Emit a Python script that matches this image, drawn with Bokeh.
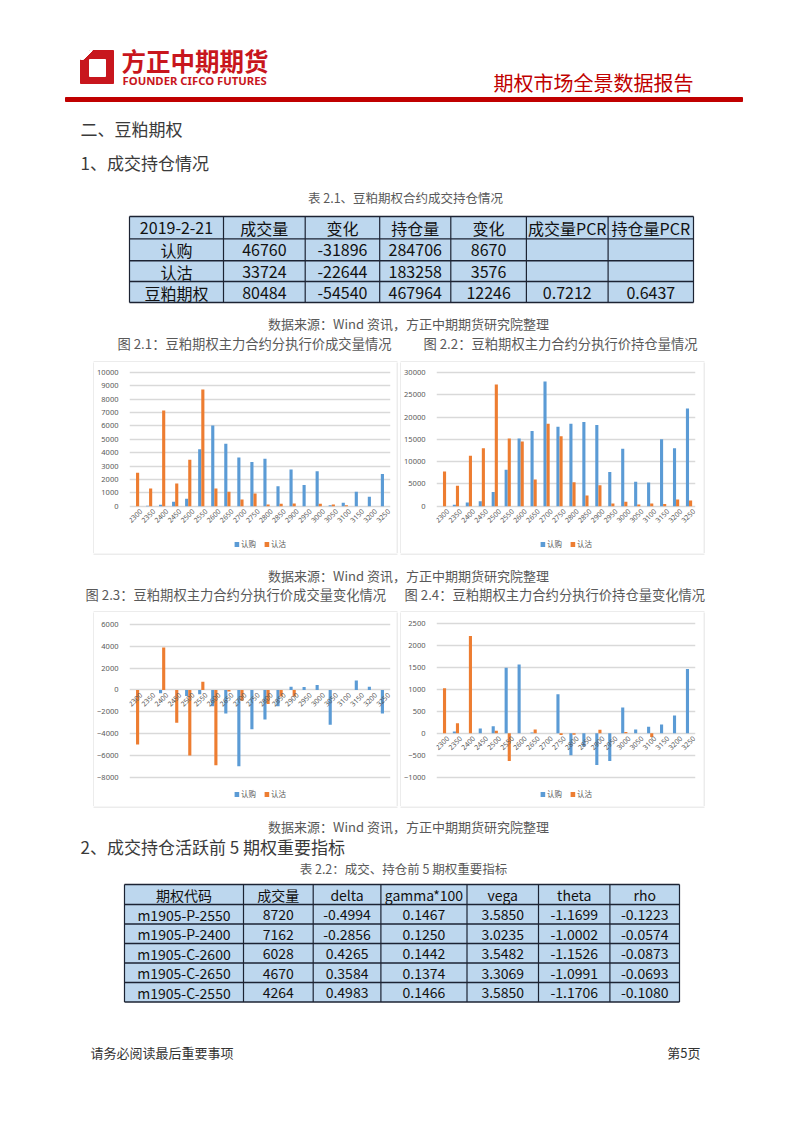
from math import pi
from bokeh.plotting import figure
from bokeh.layouts import column, row
from bokeh.models import (Range1d, FactorRange, ColumnDataSource, Legend, LegendItem,
                          FixedTicker)
from bokeh.transform import dodge
from bokeh.core.properties import value
from bokeh.embed import file_html
from bokeh.resources import INLINE

# ---------------- data ----------------
strikes = ["2300", "2350", "2400", "2450", "2500", "2550", "2600", "2650", "2700", "2750",
           "2800", "2850", "2900", "2950", "3000", "3050", "3100", "3150", "3200", "3250"]

# Fig 2.1 volume by strike
call_vol = [0, 30, 100, 330, 560, 4264, 6028, 4670, 3650, 3300,
            3550, 1500, 2750, 1580, 2620, 80, 250, 1080, 700, 2400]
put_vol = [2500, 1330, 7162, 1700, 3480, 8720, 1320, 1080, 500, 950,
           120, 180, 200, 0, 180, 120, 80, 0, 0, 0]

# Fig 2.2 open interest by strike
call_oi = [0, 350, 850, 1100, 3200, 8200, 15200, 16900, 28000, 17800,
           18500, 18900, 18200, 7700, 12900, 5500, 5300, 15000, 13000, 21900]
put_oi = [7800, 4600, 11300, 13000, 27300, 15200, 14500, 6000, 18500, 15700,
          5400, 2400, 4700, 600, 1000, 400, 600, 500, 1500, 1300]

# Fig 2.3 volume change by strike
call_vol_chg = [0, 0, -300, 0, -550, -400, -1500, -2150, -7000, -3600,
                -2700, -1500, 300, 280, 450, -3200, 0, 870, 300, -2150]
put_vol_chg = [-5000, 0, 3900, -3000, -6000, 750, -6900, -150, -1000, 0,
               -1300, -600, -600, 0, 0, 0, 0, 0, 0, 0]

# Fig 2.4 open interest change by strike
call_oi_chg = [0, 40, 0, 110, 160, 1500, 1570, 20, 0, 890,
               -500, -300, -720, -630, 590, 90, 150, 200, 410, 1470]
put_oi_chg = [1030, 230, 2220, 0, 60, -630, 0, 90, 0, -40,
              -30, 0, 80, 0, 30, 0, -80, 0, 0, 0]

ticks_vol = [0, 1000, 2000, 3000, 4000, 5000, 6000, 7000, 8000, 9000, 10000]
ticks_oi = [0, 5000, 10000, 15000, 20000, 25000, 30000]
ticks_vol_chg = [-8000, -6000, -4000, -2000, 0, 2000, 4000, 6000]
ticks_oi_chg = [-1000, -500, 0, 500, 1000, 1500, 2000, 2500]

series_names = ["认购", "认沽"]

# Table 2.1
t1_header = ["2019-2-21", "成交量", "变化", "持仓量", "变化", "成交量PCR", "持仓量PCR"]
t1_names = ["认购", "认沽", "豆粕期权"]
t1_volume = ["46760", "33724", "80484"]
t1_vol_chg = ["-31896", "-22644", "-54540"]
t1_oi = ["284706", "183258", "467964"]
t1_oi_chg = ["8670", "3576", "12246"]
t1_vol_pcr = ["", "", "0.7212"]
t1_oi_pcr = ["", "", "0.6437"]

# Table 2.2
t2_header = ["期权代码", "成交量", "delta", "gamma*100", "vega", "theta", "rho"]
t2_code = ["m1905-P-2550", "m1905-P-2400", "m1905-C-2600", "m1905-C-2650", "m1905-C-2550"]
t2_volume = ["8720", "7162", "6028", "4670", "4264"]
t2_delta = ["-0.4994", "-0.2856", "0.4265", "0.3584", "0.4983"]
t2_gamma = ["0.1467", "0.1250", "0.1442", "0.1374", "0.1466"]
t2_vega = ["3.5850", "3.0235", "3.5482", "3.3069", "3.5850"]
t2_theta = ["-1.1699", "-1.0002", "-1.1526", "-1.0991", "-1.1706"]
t2_rho = ["-0.1223", "-0.0574", "-0.0873", "-0.0693", "-0.1080"]

# ---------------- styles ----------------
CJK = "Noto Sans CJK SC"
RED = "#C00000"
TXT = "#3a3a3a"
CAP = "#595959"
BLUE = "#5B9BD5"
ORANGE = "#ED7D31"
GRID = "#D9D9D9"
BOX = "#D9D9D9"
CELL = "#BDD7EE"
TLINE = "#1c2333"
PAGE_W = 800


def page_fig(x0, x1, y0, y1):
    p = figure(width=x1 - x0, height=y1 - y0, x_range=Range1d(x0, x1), y_range=Range1d(y1, y0),
               x_axis_location=None, y_axis_location=None, output_backend="svg",
               toolbar_location=None, min_border=0)
    p.grid.visible = False
    p.outline_line_color = None
    return p


def txt(p, x, y, s, size, color=TXT, align="left", font=CJK, style="normal"):
    p.text(x=[x], y=[y], text=[s], text_font=value(font), text_font_size=size,
           text_color=color, text_align=align, text_baseline="middle", text_font_style=style)


def hline(p, x0, x1, row_px):
    p.segment(x0=[x0], y0=[row_px + 0.5], x1=[x1], y1=[row_px + 0.5], line_color=BOX, line_width=1)


def vline(p, col_px, y0, y1):
    p.segment(x0=[col_px + 0.5], y0=[y0], x1=[col_px + 0.5], y1=[y1], line_color=BOX, line_width=1)


def draw_table(p, cols, rows, cells, size):
    p.quad(left=[cols[0]], right=[cols[-1]], top=[rows[0]], bottom=[rows[-1]],
           fill_color=CELL, line_color=None)
    p.segment(x0=cols, y0=[rows[0]] * len(cols), x1=cols, y1=[rows[-1]] * len(cols),
              line_color=TLINE, line_width=1.2)
    p.segment(x0=[cols[0]] * len(rows), y0=rows, x1=[cols[-1]] * len(rows), y1=rows,
              line_color=TLINE, line_width=1.4)
    xs, ys, ts = [], [], []
    for i, r in enumerate(cells):
        for j, c in enumerate(r):
            xs.append((cols[j] + cols[j + 1]) / 2)
            ys.append((rows[i] + rows[i + 1]) / 2 + 0.5)
            ts.append(c)
    p.text(x=xs, y=ys, text=ts, text_align="center", text_baseline="middle",
           text_font=value(CJK), text_font_size=size, text_color="#111111")


def bar_chart(w, h, calls, puts, ticks, px_top, px_bottom, border_lr, legend_margin):
    # px_top / px_bottom: canvas pixel rows of the highest and lowest tick
    a, b = ticks[-1], ticks[0]
    s = (a - b) / (px_bottom - px_top)
    hi = a + px_top * s
    lo = b - (h - px_bottom) * s
    left, right = border_lr
    p = figure(width=w, height=h, x_range=FactorRange(factors=strikes), y_range=Range1d(lo, hi),
               output_backend="svg", toolbar_location=None, x_axis_location=None,
               min_border_left=left, min_border_right=right,
               min_border_top=0, min_border_bottom=0)
    p.outline_line_color = None
    src = ColumnDataSource(dict(x=strikes, c=calls, p=puts))
    r1 = p.vbar(x=dodge("x", -0.12, range=p.x_range), top="c", bottom=0, width=0.24,
                source=src, fill_color=BLUE, line_color=None)
    r2 = p.vbar(x=dodge("x", 0.12, range=p.x_range), top="p", bottom=0, width=0.24,
                source=src, fill_color=ORANGE, line_color=None)
    p.xgrid.visible = False
    p.ygrid.ticker = FixedTicker(ticks=ticks)
    p.ygrid.grid_line_color = GRID
    p.ygrid.grid_line_width = 1.6
    p.yaxis.ticker = FixedTicker(ticks=ticks)
    p.yaxis.axis_line_color = None
    p.yaxis.major_tick_line_color = None
    p.yaxis.minor_tick_line_color = None
    p.yaxis.major_label_text_font = "Noto Sans"
    p.yaxis.major_label_text_font_size = "7.5px"
    p.yaxis.major_label_text_color = CAP
    p.yaxis.major_label_standoff = 5
    # category labels next to the zero line
    lbl = ColumnDataSource(dict(x=strikes, y=[0] * len(strikes), t=strikes))
    p.text(x="x", y="y", text="t", source=lbl, angle=pi / 4, text_align="right",
           text_baseline="middle", x_offset=5, y_offset=4, text_font_size="7px",
           text_color=CAP, text_font=value("Noto Sans"))
    leg = Legend(items=[LegendItem(label=series_names[0], renderers=[r1]),
                        LegendItem(label=series_names[1], renderers=[r2])],
                 orientation="horizontal", location="bottom_center",
                 label_text_font=CJK, label_text_font_size="7.5px", label_text_color=CAP,
                 glyph_width=6, glyph_height=6, spacing=7, padding=2, margin=legend_margin,
                 border_line_color=None, background_fill_alpha=0, label_standoff=2,
                 label_height=8, label_width=10)
    p.add_layout(leg)
    return p


# ---------------- top part (image rows 0..361) ----------------
top = page_fig(0, PAGE_W, 0, 362)
top.patch(x=[80, 89, 113, 113, 80], y=[59, 50, 50, 83, 83], color="#C8161D")
top.patch(x=[89, 105, 105, 89], y=[59, 59, 76, 76], color="white")
top.patch(x=[80, 89, 92, 83], y=[59, 50, 50, 59], color="white")
txt(top, 121, 60, "方正中期期货", "24.5px", color="#C8161D", style="bold")
txt(top, 122, 79.5, "FOUNDER CIFCO FUTURES", "11.3px", color="#C8161D", font="Noto Sans", style="bold")
txt(top, 493, 82, "期权市场全景数据报告", "20px", color=RED)
top.quad(left=[65], right=[742], top=[97], bottom=[101], color=RED)

txt(top, 80, 128, "二、豆粕期权", "17px")
txt(top, 80, 162, "1、成交持仓情况", "17px")
txt(top, 405, 197, "表 2.1、豆粕期权合约成交持仓情况", "12.5px", color=CAP, align="center")

t1_cells = [t1_header] + [list(r) for r in zip(t1_names, t1_volume, t1_vol_chg, t1_oi,
                                                 t1_oi_chg, t1_vol_pcr, t1_oi_pcr)]
draw_table(top, [129, 223, 304.7, 379.2, 450.3, 525.9, 607.6, 693],
           [216, 238.4, 260.2, 281, 302], t1_cells, "16px")

txt(top, 408, 323, "数据来源：Wind 资讯，方正中期期货研究院整理", "13px", color=CAP, align="center")
txt(top, 254, 343, "图 2.1：豆粕期权主力合约分执行价成交量情况", "13.3px", color=CAP, align="center")
txt(top, 560, 343, "图 2.2：豆粕期权主力合约分执行价持仓量情况", "13.3px", color=CAP, align="center")
hline(top, 93, 397, 361)
hline(top, 400, 704, 361)

# ---------------- charts row 1 (image rows 362..552) ----------------
R1H = 191
c1 = bar_chart(302, R1H, call_vol, put_vol, ticks_vol, 10, 143.7, (35, 6), 4)
c2 = bar_chart(302, R1H, call_oi, put_oi, ticks_oi, 10, 143.7, (32, 8), 4)
l1 = page_fig(0, 94, 362, 362 + R1H)
vline(l1, 93, 361, 553)
g1 = page_fig(396, 401, 362, 362 + R1H)
vline(g1, 396, 361, 553)
vline(g1, 400, 361, 553)
e1 = page_fig(703, 713, 362, 362 + R1H)
vline(e1, 703, 361, 553)

# ---------------- middle text (image rows 553..611) ----------------
mid = page_fig(0, PAGE_W, 553, 612)
hline(mid, 93, 397, 553)
hline(mid, 400, 704, 553)
txt(mid, 408, 575, "数据来源：Wind 资讯，方正中期期货研究院整理", "13px", color=CAP, align="center")
txt(mid, 85, 594, "图 2.3：豆粕期权主力合约分执行价成交量变化情况", "13.3px", color=CAP)
txt(mid, 404, 594, "图 2.4：豆粕期权主力合约分执行价持仓量变化情况", "13.3px", color=CAP)
hline(mid, 93, 397, 611)
hline(mid, 400, 704, 611)

# ---------------- charts row 2 (image rows 612..805) ----------------
R2H = 194
c3 = bar_chart(302, R2H, call_vol_chg, put_vol_chg, ticks_vol_chg, 12, 164.7, (33, 6), 7)
c4 = bar_chart(302, R2H, call_oi_chg, put_oi_chg, ticks_oi_chg, 11.3, 164.7, (31, 8), 7)
l2 = page_fig(0, 94, 612, 612 + R2H)
vline(l2, 93, 611, 806)
g2 = page_fig(396, 401, 612, 612 + R2H)
vline(g2, 396, 611, 806)
vline(g2, 400, 611, 806)
e2 = page_fig(703, 713, 612, 612 + R2H)
vline(e2, 703, 611, 806)

# ---------------- bottom part (image rows 806..1124) ----------------
bot = page_fig(0, PAGE_W, 806, 1125)
hline(bot, 93, 397, 806)
hline(bot, 400, 704, 806)
txt(bot, 408, 826, "数据来源：Wind 资讯，方正中期期货研究院整理", "13px", color=CAP, align="center")
txt(bot, 80, 846, "2、成交持仓活跃前 5 期权重要指标", "17px")
txt(bot, 403, 868, "表 2.2：成交、持仓前 5 期权重要指标", "12.5px", color=CAP, align="center")
t2_cells = [t2_header] + [list(r) for r in zip(t2_code, t2_volume, t2_delta, t2_gamma,
                                                 t2_vega, t2_theta, t2_rho)]
draw_table(bot, [124, 243, 312.7, 380.4, 466.5, 538, 609.4, 679],
           [884, 904, 923.5, 943, 962.5, 982, 1001.5], t2_cells, "14px")
txt(bot, 90, 1052, "请务必阅读最后重要事项", "13px", color="#333333")
txt(bot, 700, 1052, "第5页", "13px", color="#333333", align="right")

layout = column(
    top,
    row(l1, c1, g1, c2, e1),
    mid,
    row(l2, c3, g2, c4, e2),
    bot,
)

open("out.html", "w", encoding="utf-8").write(file_html(layout, INLINE, title="期权市场全景数据报告"))
